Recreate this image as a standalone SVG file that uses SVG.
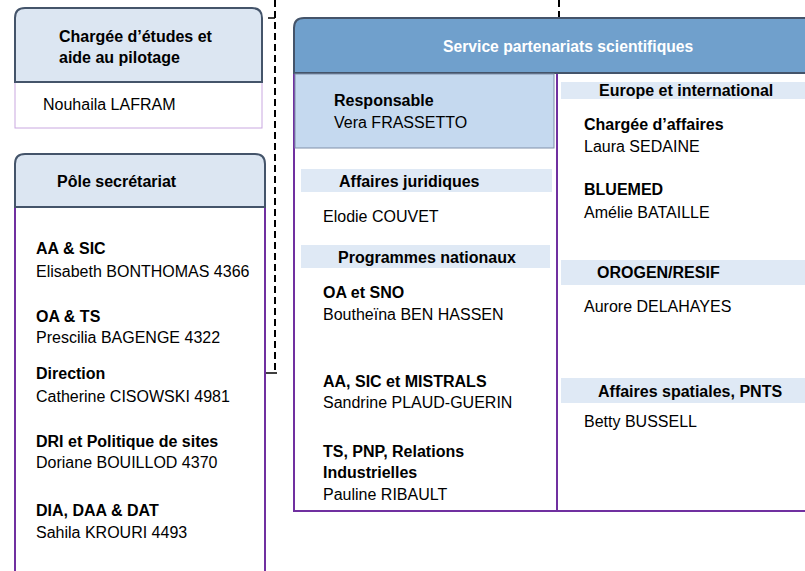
<svg xmlns="http://www.w3.org/2000/svg" width="805" height="571" viewBox="0 0 805 571">
<style>
text{font-family:"Liberation Sans",Arial,sans-serif;font-size:16px;fill:#000}
.b{font-weight:bold}
.hdr{fill:#dce6f2;stroke:#44546a;stroke-width:2}
.hdr2{fill:#70a0cc;stroke:#44546a;stroke-width:2}
.body{fill:#fff;stroke:#7030a0;stroke-width:2}
.band{fill:#dfe9f5}
.dash{fill:none;stroke:#000;stroke-width:2;stroke-dasharray:7 4}
.w{fill:#fff}
</style>
<rect width="805" height="571" fill="#fff"/>
<g id="connectors">
<path class="dash" d="M275,0 V373"/>
<path fill="none" stroke="#000" stroke-width="1.5" d="M268,18 H275 M263,373 H277"/>
<path class="dash" d="M559,0 V18"/>
</g>
<g id="chargee">
<rect x="15" y="82" width="247" height="46" fill="#fff" stroke="#c9a8e0" stroke-width="1"/>
<path class="hdr" d="M15,82 V18 Q15,8 25,8 H252 Q262,8 262,18 V82 Z"/>
<text class="b" x="59" y="42">Chargée d’études et</text>
<text class="b" x="59" y="63">aide au pilotage</text>
<text x="43" y="110">Nouhaila LAFRAM</text>
</g>
<g id="secretariat">
<rect class="body" x="15" y="207" width="250" height="370"/>
<path class="hdr" d="M15,207 V164 Q15,154 25,154 H255 Q265,154 265,164 V207 Z"/>
<text class="b" x="57" y="187">Pôle secrétariat</text>
<text class="b" x="36" y="254">AA &amp; SIC</text>
<text x="36" y="277">Elisabeth BONTHOMAS 4366</text>
<text class="b" x="36" y="322">OA &amp; TS</text>
<text x="36" y="343">Prescilia BAGENGE 4322</text>
<text class="b" x="36" y="379">Direction</text>
<text x="36" y="402">Catherine CISOWSKI 4981</text>
<text class="b" x="36" y="447">DRI et Politique de sites</text>
<text x="36" y="468">Doriane BOUILLOD 4370</text>
<text class="b" x="36" y="516">DIA, DAA &amp; DAT</text>
<text x="36" y="538">Sahila KROURI 4493</text>
</g>
<g id="service">
<rect class="body" x="294" y="73" width="263" height="438"/>
<rect class="body" x="557" y="73" width="260" height="438"/>
<path class="hdr2" d="M294,73 V28 Q294,18 304,18 H815 V73 Z"/>
<text class="b w" x="443" y="52" style="font-size:15.7px">Service partenariats scientifiques</text>
</g>
<g id="responsable">
<rect x="295" y="74" width="259" height="74" fill="#c5d9ef" stroke="#7f8fa9" stroke-width="1"/>
<text class="b" x="334" y="106">Responsable</text>
<text x="334" y="128">Vera FRASSETTO</text>
</g>
<g id="juridiques">
<rect class="band" x="301" y="169" width="251" height="23"/>
<text class="b" x="339" y="187">Affaires juridiques</text>
<text x="323" y="222">Elodie COUVET</text>
</g>
<g id="nationaux">
<rect class="band" x="301" y="245" width="249" height="23"/>
<text class="b" x="338" y="263">Programmes nationaux</text>
<text class="b" x="323" y="298">OA et SNO</text>
<text x="323" y="320">Boutheïna BEN HASSEN</text>
<text class="b" x="323" y="387">AA, SIC et MISTRALS</text>
<text x="323" y="408">Sandrine PLAUD-GUERIN</text>
<text class="b" x="323" y="457">TS, PNP, Relations</text>
<text class="b" x="323" y="478">Industrielles</text>
<text x="323" y="500">Pauline RIBAULT</text>
</g>
<g id="europe">
<rect class="band" x="561" y="82" width="244" height="17"/>
<text class="b" x="599" y="96">Europe et international</text>
<text class="b" x="584" y="130">Chargée d’affaires</text>
<text x="584" y="152">Laura SEDAINE</text>
<text class="b" x="584" y="195">BLUEMED</text>
<text x="584" y="218">Amélie BATAILLE</text>
</g>
<g id="orogen">
<rect class="band" x="561" y="260" width="244" height="25"/>
<text class="b" x="597" y="278">OROGEN/RESIF</text>
<text x="584" y="312">Aurore DELAHAYES</text>
</g>
<g id="spatiales">
<rect class="band" x="561" y="378" width="244" height="25"/>
<text class="b" x="598" y="397">Affaires spatiales, PNTS</text>
<text x="584" y="427">Betty BUSSELL</text>
</g>
</svg>
